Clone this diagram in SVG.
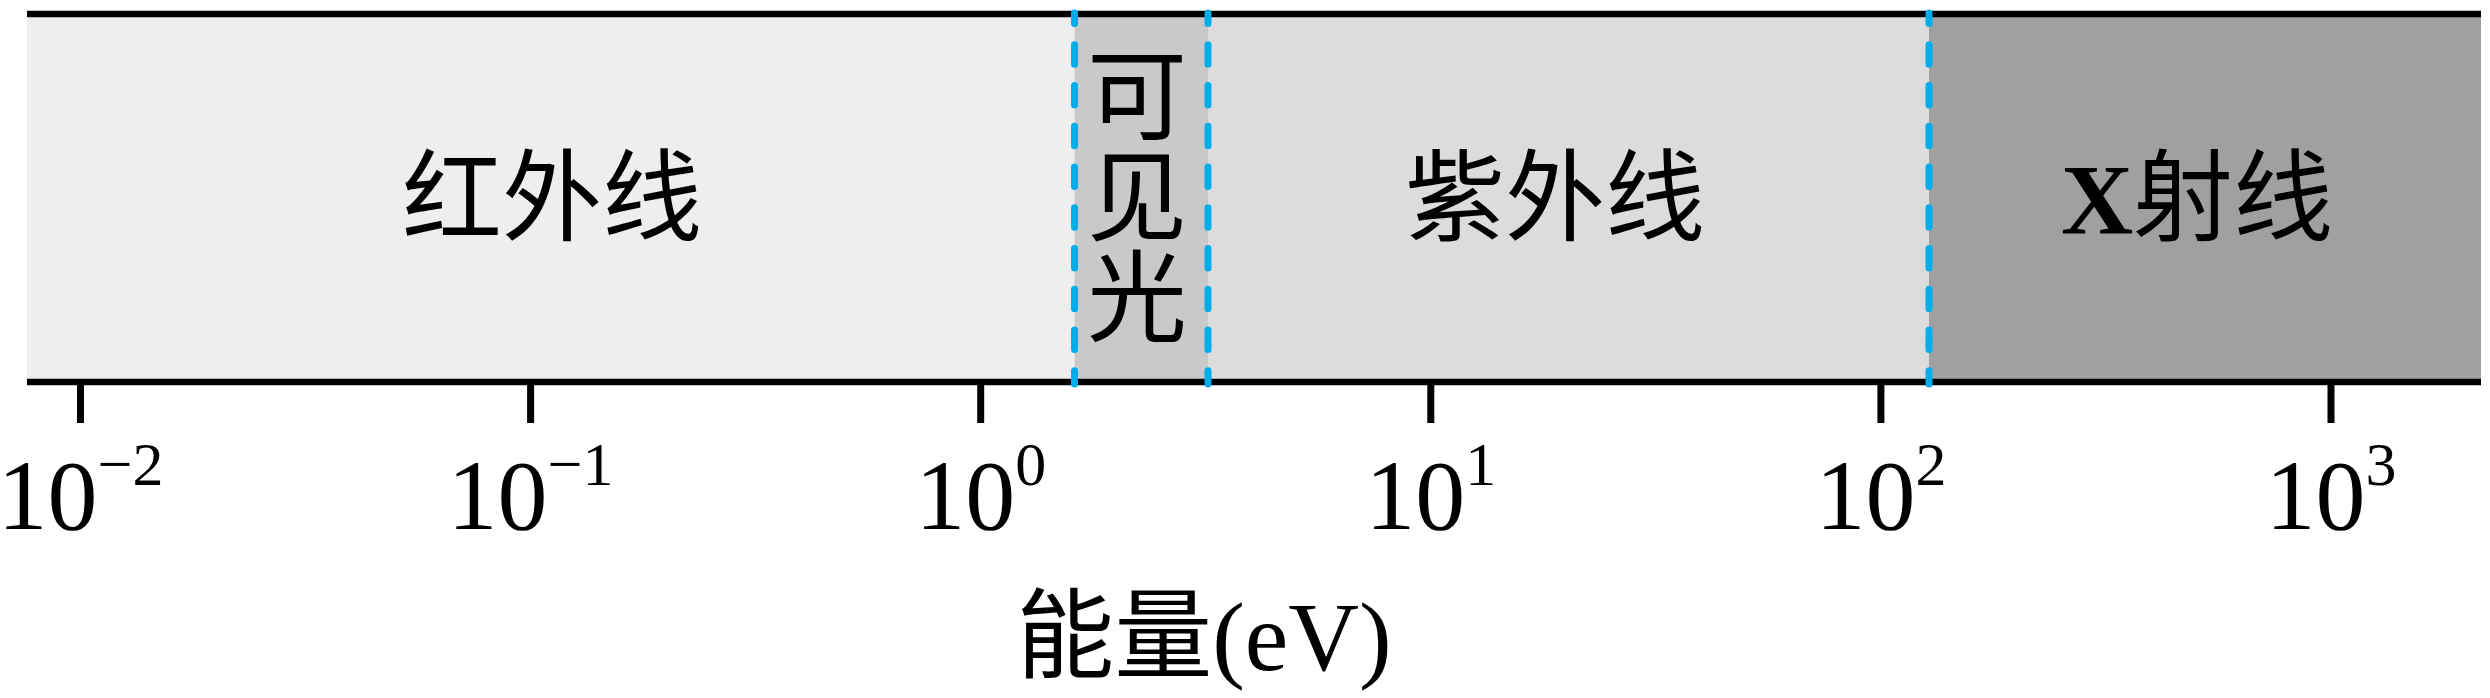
<svg xmlns="http://www.w3.org/2000/svg" width="2490" height="698" viewBox="0 0 2490 698">
<style>
.t{font-family:'Liberation Serif','Noto Sans CJK SC',serif;fill:#000;}
.band{font-size:100px;text-anchor:middle;}
.tick{font-size:100px;text-anchor:middle;}
.sup{font-size:62px;}
.axis{stroke:#000;stroke-width:6.5;fill:none;}
.tk{stroke:#000;stroke-width:7;}
.dash{stroke:#00ADEA;stroke-width:7;stroke-linecap:round;stroke-dasharray:19.5 21.25;stroke-dashoffset:9;fill:none;}
</style>
<rect width="2490" height="698" fill="#fff"/>
<g id="infrared">
<rect x="27" y="14" width="1047.5" height="368" fill="#EEEEEE"/>
<text class="t band" x="552" y="233">红外线</text>
</g>
<g id="visible">
<rect x="1074.5" y="14" width="133.5" height="368" fill="#C9C9CA"/>
<text class="t band" x="1137" y="132">可</text>
<text class="t band" x="1137" y="233">见</text>
<text class="t band" x="1137" y="334">光</text>
</g>
<g id="ultraviolet">
<rect x="1208" y="14" width="721" height="368" fill="#DCDCDC"/>
<text class="t band" x="1555" y="233">紫外线</text>
</g>
<g id="xray">
<rect x="1929" y="14" width="552" height="368" fill="#A0A0A0"/>
<text class="t band" x="2197" y="233"><tspan font-weight="bold">X</tspan>射线</text>
</g>
<g id="axis">
<line class="axis" x1="27" y1="14" x2="2481" y2="14"/>
<line class="axis" x1="27" y1="382" x2="2481" y2="382"/>
<line class="tk" x1="80.5" y1="382" x2="80.5" y2="423"/>
<line class="tk" x1="530.6" y1="382" x2="530.6" y2="423"/>
<line class="tk" x1="980.7" y1="382" x2="980.7" y2="423"/>
<line class="tk" x1="1430.8" y1="382" x2="1430.8" y2="423"/>
<line class="tk" x1="1880.9" y1="382" x2="1880.9" y2="423"/>
<line class="tk" x1="2331" y1="382" x2="2331" y2="423"/>
<text class="t tick" x="80.5" y="529">10<tspan class="sup" dy="-44">−2</tspan></text>
<text class="t tick" x="530.6" y="529">10<tspan class="sup" dy="-44">−1</tspan></text>
<text class="t tick" x="980.7" y="529">10<tspan class="sup" dy="-44">0</tspan></text>
<text class="t tick" x="1430.8" y="529">10<tspan class="sup" dy="-44">1</tspan></text>
<text class="t tick" x="1880.9" y="529">10<tspan class="sup" dy="-44">2</tspan></text>
<text class="t tick" x="2331" y="529">10<tspan class="sup" dy="-44">3</tspan></text>
<text class="t" x="1204" y="670" font-size="98" text-anchor="middle">能量(eV)</text>
</g>
<g id="connectors">
<line class="dash" x1="1074.5" y1="13" x2="1074.5" y2="384"/>
<line class="dash" x1="1208" y1="13" x2="1208" y2="384"/>
<line class="dash" x1="1929" y1="13" x2="1929" y2="384"/>
</g>
</svg>
